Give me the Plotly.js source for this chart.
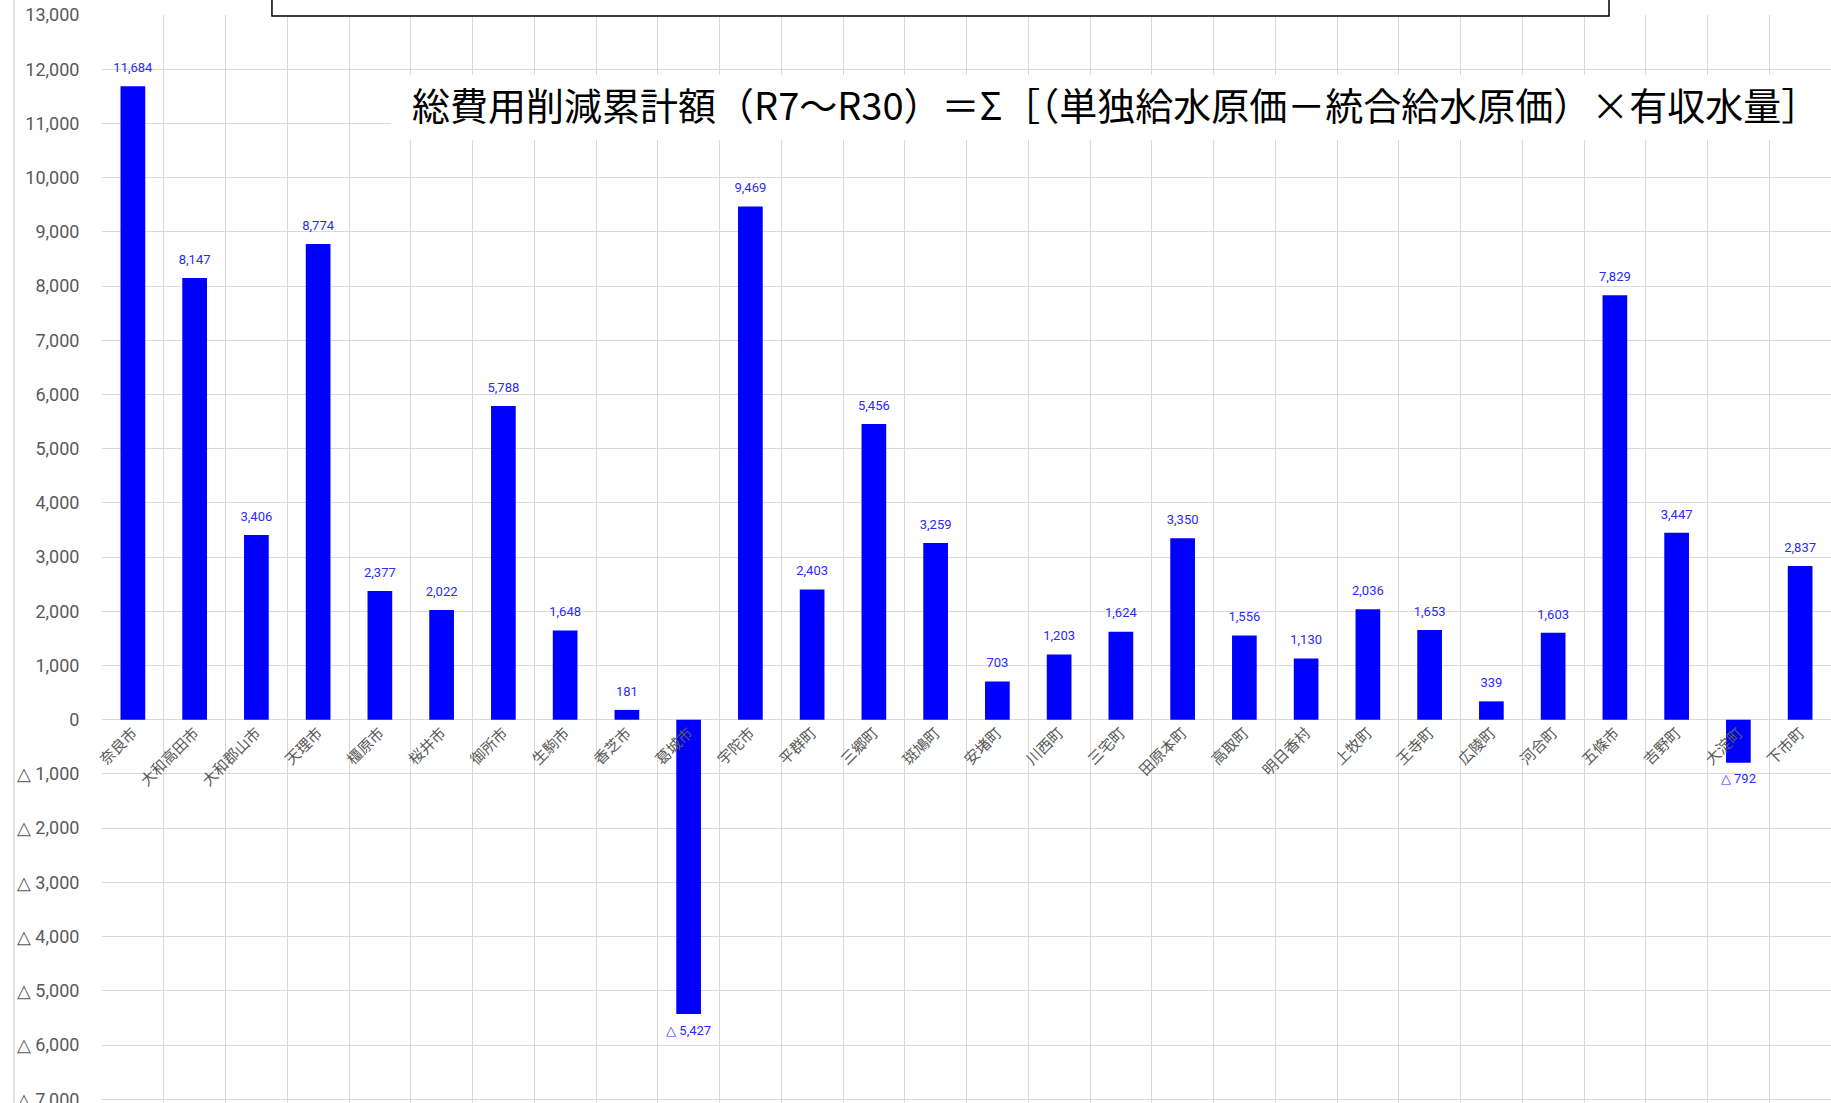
<!DOCTYPE html>
<html>
<head>
<meta charset="utf-8">
<script src="https://cdn.plot.ly/plotly-3.0.1.min.js"></script>
<style>html,body{margin:0;padding:0;background:#fff;}#chart{width:1831px;height:1103px;}</style>
</head>
<body>
<div id="chart"></div>
<script>
const categories = ["奈良市","大和高田市","大和郡山市","天理市","橿原市","桜井市","御所市","生駒市","香芝市","葛城市","宇陀市","平群町","三郷町","斑鳩町","安堵町","川西町","三宅町","田原本町","高取町","明日香村","上牧町","王寺町","広陵町","河合町","五條市","吉野町","大淀町","下市町"];
const values = [11684, 8147, 3406, 8774, 2377, 2022, 5788, 1648, 181, -5427, 9469, 2403, 5456, 3259, 703, 1203, 1624, 3350, 1556, 1130, 2036, 1653, 339, 1603, 7829, 3447, -792, 2837];
const yTickVals = [13000, 12000, 11000, 10000, 9000, 8000, 7000, 6000, 5000, 4000, 3000, 2000, 1000, 0, -1000, -2000, -3000, -4000, -5000, -6000, -7000];
const yTickText = ["13,000","12,000","11,000","10,000","9,000","8,000","7,000","6,000","5,000","4,000","3,000","2,000","1,000","0","△ 1,000","△ 2,000","△ 3,000","△ 4,000","△ 5,000","△ 6,000","△ 7,000"];
const titleText = "総費用削減累計額（R7～R30）＝Σ［（単独給水原価－統合給水原価）×有収水量］";

function fmt(v){
  const s = Math.abs(v).toLocaleString("en-US");
  return v < 0 ? "△ " + s : s;
}
const labels = values.map(fmt);

const bars = {
  type: "bar",
  x: categories,
  y: values,
  marker: {color: "#0000ff", line: {width: 0}},
  hoverinfo: "x+y"
};

const dataLabels = {
  type: "scatter",
  mode: "markers+text",
  x: categories,
  y: values,
  text: labels,
  textposition: values.map(v => v < 0 ? "bottom center" : "top center"),
  textfont: {family: "Roboto, sans-serif", size: 13, color: "#2a2aff"},
  marker: {size: 16, color: "rgba(0,0,0,0)"},
  cliponaxis: false,
  hoverinfo: "skip"
};

const layout = {
  width: 1831,
  height: 1103,
  margin: {l: 102, r: 0, t: 15, b: 0, pad: 0},
  paper_bgcolor: "#ffffff",
  plot_bgcolor: "#ffffff",
  showlegend: false,
  bargap: 0.6,
  xaxis: {
    type: "category",
    range: [-0.5, 27.5],
    anchor: "free",
    position: 0.3518,
    tickson: "boundaries",
    showgrid: true,
    gridcolor: "#d9d9d9",
    gridwidth: 1,
    showline: false,
    zeroline: false,
    ticks: "outside",
    ticklen: 5,
    tickcolor: "rgba(0,0,0,0)",
    tickangle: -45,
    tickfont: {family: "Noto Sans CJK JP, sans-serif", size: 15, color: "#595959"},
    automargin: false,
    fixedrange: true
  },
  yaxis: {
    range: [-7070, 13000],
    tickmode: "array",
    tickvals: yTickVals,
    ticktext: yTickText,
    ticklabeloverflow: "allow",
    showgrid: true,
    gridcolor: "#d9d9d9",
    gridwidth: 1,
    zeroline: true,
    zerolinecolor: "#d9d9d9",
    zerolinewidth: 1,
    showline: false,
    ticks: "outside",
    ticklen: 18,
    tickcolor: "rgba(0,0,0,0)",
    tickfont: {family: "Roboto, sans-serif", size: 18, color: "#595959"},
    automargin: false,
    fixedrange: true
  },
  shapes: [
    {type: "line", xref: "paper", yref: "paper", x0: -0.0509, x1: -0.0509, y0: -0.01, y1: 1.02,
     line: {color: "#d9d9d9", width: 1.5}},
    {type: "rect", xref: "paper", yref: "paper", x0: 0.167, x1: 1.01, y0: 0.8851, y1: 0.9449,
     fillcolor: "#ffffff", line: {width: 0}, layer: "above"},
    {type: "rect", xref: "paper", yref: "paper", x0: 0.0983, x1: 0.8716, y0: 0.999, y1: 1.05,
     fillcolor: "#ffffff", line: {color: "#000000", width: 1.5}, layer: "above"}
  ],
  annotations: [
    {text: titleText, xref: "paper", yref: "paper", x: 0.586, y: 0.919,
     xanchor: "center", yanchor: "middle", showarrow: false,
     font: {family: "Noto Sans CJK JP, sans-serif", size: 38, color: "#000000"}}
  ]
};

Plotly.newPlot("chart", [bars, dataLabels], layout, {displayModeBar: false, staticPlot: true});
</script>
</body>
</html>
